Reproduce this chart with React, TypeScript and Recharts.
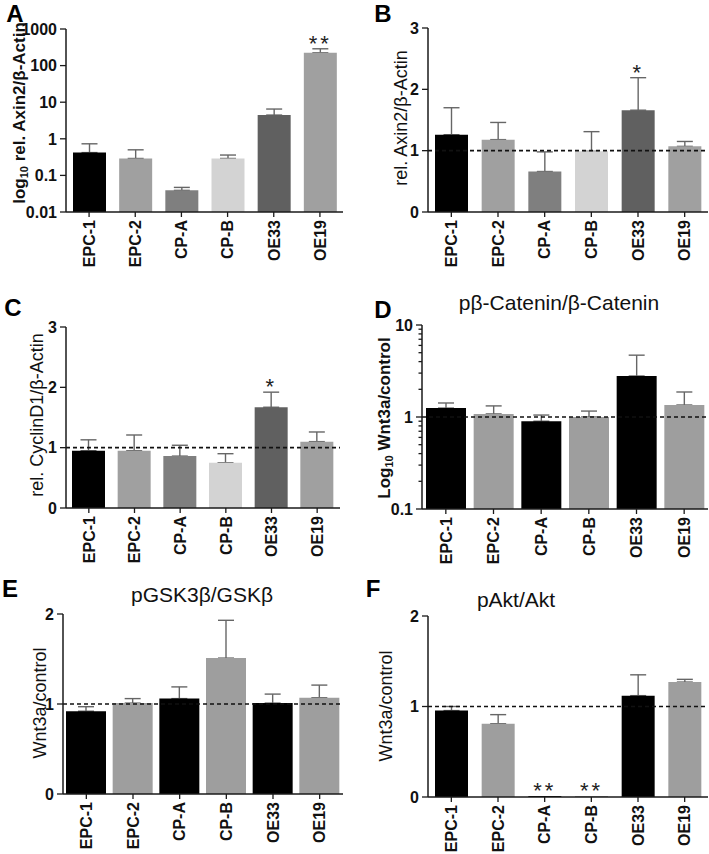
import { Bar, BarChart, Cell, ErrorBar, LabelList, ReferenceLine, XAxis, YAxis } from 'recharts';

const FONT = '"Liberation Sans", Arial, Helvetica, sans-serif';
const AXIS = '#1a1a1a';

const CATEGORIES = ['EPC-1', 'EPC-2', 'CP-A', 'CP-B', 'OE33', 'OE19'];

// grey scheme used in A-C, black/grey alternation in D-F
const SHADES = ['#000000', '#a0a0a0', '#7f7f7f', '#d3d3d3', '#606060', '#a0a0a0'];
const ALTERNATE = ['#000000', '#9e9e9e', '#000000', '#9e9e9e', '#000000', '#9e9e9e'];

// A: log10 rel. Axin2/β-Actin
const AXIN2_LOG = [0.42, 0.29, 0.039, 0.29, 4.45, 224];
const AXIN2_LOG_ERR = [0.31, 0.21, 0.008, 0.07, 2.05, 64];
const AXIN2_LOG_SIG = ['', '', '', '', '', '**'];

// B: rel. Axin2/β-Actin
const AXIN2 = [1.26, 1.18, 0.66, 0.99, 1.66, 1.07];
const AXIN2_ERR = [0.44, 0.28, 0.32, 0.32, 0.53, 0.08];
const AXIN2_SIG = ['', '', '', '', '*', ''];

// C: rel. CyclinD1/β-Actin
const CYCLIN = [0.95, 0.95, 0.86, 0.75, 1.67, 1.1];
const CYCLIN_ERR = [0.18, 0.26, 0.18, 0.15, 0.25, 0.16];
const CYCLIN_SIG = ['', '', '', '', '*', ''];

// D: pβ-Catenin/β-Catenin
const CATENIN = [1.25, 1.08, 0.9, 1.0, 2.79, 1.35];
const CATENIN_ERR = [0.17, 0.24, 0.15, 0.16, 1.91, 0.52];

// E: pGSK3β/GSKβ
const GSK = [0.92, 1.01, 1.06, 1.51, 1.01, 1.07];
const GSK_ERR = [0.05, 0.05, 0.13, 0.42, 0.1, 0.14];

// F: pAkt/Akt
const AKT = [0.955, 0.81, 0, 0, 1.12, 1.27];
const AKT_ERR = [0.045, 0.1, 0, 0, 0.23, 0.03];
const AKT_SIG = ['', '', '**', '**', '', ''];

const TICKS_A = [0.01, 0.1, 1, 10, 100, 1000];
const TICKS_D = [0.1, 0.2, 0.3, 0.4, 0.5, 0.6, 0.7, 0.8, 0.9, 1, 2, 3, 4, 5, 6, 7, 8, 9, 10];
const MAJORS_D = [0.1, 1, 10];
const TICKS_3 = [0, 1, 2, 3];
const TICKS_2 = [0, 1, 2];

interface Layout {
  left: number;
  top: number;
  width: number;
  height: number;
  x0: number;
  x1: number;
  y0: number;
  y1: number;
}

interface PanelProps {
  layout: Layout;
  values: number[];
  errors: number[];
  colors: string[];
  sig?: string[];
  log?: boolean;
  domain: [number, number];
  ticks: number[];
  majors?: number[];
  barSize: number;
  refLine?: boolean;
}

function YTick(props: any) {
  const { y, payload, axisX, majors } = props;
  const v = payload.value;
  const major = !majors || majors.includes(v);
  return (
    <g>
      <line x1={axisX - (major ? 6 : 3.5)} x2={axisX} y1={y} y2={y} stroke={AXIS} strokeWidth={1.3} />
      {major && (
        <text x={axisX - 9} y={y} dy="0.36em" textAnchor="end" fontFamily={FONT} fontWeight="bold" fontSize={16} fill="#111">
          {String(v)}
        </text>
      )}
    </g>
  );
}

function XTick(props: any) {
  const { x, payload, axisY } = props;
  return (
    <g>
      <line x1={x} x2={x} y1={axisY} y2={axisY + 5} stroke={AXIS} strokeWidth={1.3} />
      <text
        transform={`translate(${x},${axisY + 8}) rotate(-90)`}
        textAnchor="end"
        dy="0.36em"
        fontFamily={FONT}
        fontWeight="bold"
        fontSize={16}
        fill="#111"
      >
        {payload.value}
      </text>
    </g>
  );
}

/** Puts the significance stars just above the error bar of a bar. */
function sigLabel(values: number[], errors: number[], log: boolean, base: number) {
  return (props: any) => {
    const { index, value } = props;
    if (!value) return null;
    const vb = props.viewBox ?? props;
    const x = vb.x ?? props.x;
    const y = vb.y ?? props.y;
    const width = vb.width ?? props.width;
    const height = vb.height ?? props.height;
    const v = values[index];
    const e = errors[index];
    let top = y;
    if (v > 0 && height > 0) {
      if (log) {
        const perDecade = height / Math.log10(v / base);
        top = y - perDecade * Math.log10((v + e) / v);
      } else {
        top = y - (height / v) * e;
      }
    }
    return (
      <text
        x={x + width / 2}
        y={top + 2}
        textAnchor="middle"
        fontFamily={FONT}
        fontSize={22}
        letterSpacing={3}
        fill="#222"
      >
        {value}
      </text>
    );
  };
}

function Panel({ layout, values, errors, colors, sig, log, domain, ticks, majors, barSize, refLine = true }: PanelProps) {
  const data = CATEGORIES.map((name, i) => ({
    name,
    value: values[i],
    err: [0, errors[i]],
    sig: sig ? sig[i] : '',
  }));
  const { left, top, width, height, x0, x1, y0, y1 } = layout;
  const margin = { top: y0 - top, right: left + width - x1, bottom: 0, left: 0 };
  const xh = top + height - y1;
  const yw = x0 - left;
  const scale = log ? 'log' : 'linear';
  return (
    <>
      {/* error bars sit behind the bars, so only the upper half shows */}
      <div style={{ position: 'absolute', left, top }}>
        <BarChart width={width} height={height} data={data} margin={margin}>
          <XAxis dataKey="name" interval={0} height={xh} tick={false} tickLine={false} axisLine={false} />
          <YAxis type="number" scale={scale} domain={domain} ticks={ticks} allowDataOverflow width={yw}
            tick={false} tickLine={false} axisLine={false} />
          <Bar dataKey="value" barSize={barSize} fill="transparent" isAnimationActive={false}>
            <ErrorBar dataKey="err" width={8} strokeWidth={1.4} stroke="#666" isAnimationActive={false} />
          </Bar>
        </BarChart>
      </div>
      <div style={{ position: 'absolute', left, top }}>
        <BarChart width={width} height={height} data={data} margin={margin}>
          <XAxis
            dataKey="name"
            interval={0}
            height={xh}
            tickLine={false}
            axisLine={{ stroke: AXIS, strokeWidth: 1.5 }}
            tick={<XTick axisY={y1 - top} />}
          />
          <YAxis
            type="number"
            scale={scale}
            domain={domain}
            ticks={ticks}
            interval={0}
            allowDataOverflow
            width={yw}
            tickLine={false}
            axisLine={{ stroke: AXIS, strokeWidth: 1.5 }}
            tick={<YTick axisX={yw} majors={majors} />}
          />
          <Bar dataKey="value" barSize={barSize} minPointSize={1} isAnimationActive={false}>
            {data.map((d, i) => (
              <Cell key={d.name} fill={colors[i]} />
            ))}
            {sig && <LabelList dataKey="sig" content={sigLabel(values, errors, !!log, domain[0])} />}
          </Bar>
          {refLine && <ReferenceLine y={1} stroke="#111" strokeWidth={1.6} strokeDasharray="4 3" />}
        </BarChart>
      </div>
    </>
  );
}

const LAYOUT_A: Layout = { left: 0, top: 0, width: 354, height: 285, x0: 66, x1: 343, y0: 29, y1: 212 };
const LAYOUT_B: Layout = { left: 355, top: 0, width: 354, height: 285, x0: 428, x1: 708, y0: 28, y1: 212 };
const LAYOUT_C: Layout = { left: 0, top: 285, width: 354, height: 285, x0: 66, x1: 340, y0: 327, y1: 508 };
const LAYOUT_D: Layout = { left: 355, top: 285, width: 354, height: 285, x0: 422, x1: 708, y0: 325, y1: 509 };
const LAYOUT_E: Layout = { left: 0, top: 570, width: 354, height: 284, x0: 63, x1: 343, y0: 614, y1: 794 };
const LAYOUT_F: Layout = { left: 355, top: 570, width: 354, height: 284, x0: 428, x1: 708, y0: 616, y1: 797 };

function VLabel({ x, y, bold, children }: { x: number; y: number; bold?: boolean; children: any }) {
  return (
    <text
      transform={`translate(${x},${y}) rotate(-90)`}
      textAnchor="middle"
      dominantBaseline="central"
      fontFamily={FONT}
      fontWeight={bold ? 'bold' : 'normal'}
      fontSize={bold ? 17 : 18}
      fill="#111"
    >
      {children}
    </text>
  );
}

export default function App() {
  const letter = { fontFamily: FONT, fontWeight: 'bold', fontSize: 24, fill: '#000', textAnchor: 'middle' } as const;
  const title = { fontFamily: FONT, fontSize: 21, fill: '#111', textAnchor: 'middle' } as const;
  return (
    <div style={{ position: 'absolute', left: 0, top: 0, width: 709, height: 854, background: '#fff' }}>
      <Panel layout={LAYOUT_A} values={AXIN2_LOG} errors={AXIN2_LOG_ERR} colors={SHADES} sig={AXIN2_LOG_SIG}
        log domain={[0.01, 1000]} ticks={TICKS_A} barSize={33} refLine={false} />
      <Panel layout={LAYOUT_B} values={AXIN2} errors={AXIN2_ERR} colors={SHADES} sig={AXIN2_SIG}
        domain={[0, 3]} ticks={TICKS_3} barSize={33} />
      <Panel layout={LAYOUT_C} values={CYCLIN} errors={CYCLIN_ERR} colors={SHADES} sig={CYCLIN_SIG}
        domain={[0, 3]} ticks={TICKS_3} barSize={33} />
      <Panel layout={LAYOUT_D} values={CATENIN} errors={CATENIN_ERR} colors={ALTERNATE}
        log domain={[0.1, 10]} ticks={TICKS_D} majors={MAJORS_D} barSize={40} />
      <Panel layout={LAYOUT_E} values={GSK} errors={GSK_ERR} colors={ALTERNATE}
        domain={[0, 2]} ticks={TICKS_2} barSize={40} />
      <Panel layout={LAYOUT_F} values={AKT} errors={AKT_ERR} colors={ALTERNATE} sig={AKT_SIG}
        domain={[0, 2]} ticks={TICKS_2} barSize={33} />

      <svg width={709} height={854} style={{ position: 'absolute', left: 0, top: 0, pointerEvents: 'none' }}>
        <text x={15} y={22} {...letter}>A</text>
        <text x={383} y={22} {...letter}>B</text>
        <text x={13} y={316} {...letter}>C</text>
        <text x={383} y={318} {...letter}>D</text>
        <text x={10} y={597} {...letter}>E</text>
        <text x={373} y={597} {...letter}>F</text>

        <text x={559} y={310} {...title}>pβ-Catenin/β-Catenin</text>
        <text x={202} y={602} {...title}>pGSK3β/GSKβ</text>
        <text x={516} y={607} {...title}>pAkt/Akt</text>

        <VLabel x={19} y={113} bold>
          log<tspan fontSize={11} dy={5}>10</tspan>
          <tspan dy={-5}> rel. Axin2/β-Actin</tspan>
        </VLabel>
        <VLabel x={401} y={118}>rel. Axin2/β-Actin</VLabel>
        <VLabel x={37} y={415}>rel. CyclinD1/β-Actin</VLabel>
        <VLabel x={384} y={418} bold>
          Log<tspan fontSize={11} dy={5}>10</tspan>
          <tspan dy={-5}> Wnt3a/control</tspan>
        </VLabel>
        <VLabel x={40} y={703}>Wnt3a/control</VLabel>
        <VLabel x={386} y={706}>Wnt3a/control</VLabel>
      </svg>
    </div>
  );
}
